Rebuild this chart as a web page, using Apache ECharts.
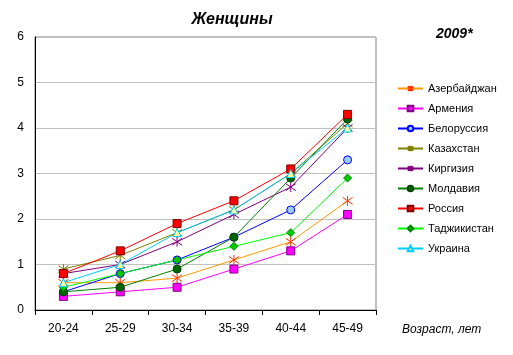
<!DOCTYPE html>
<html><head><meta charset="utf-8">
<script src="https://cdn.jsdelivr.net/npm/echarts@6/dist/echarts.min.js"></script>
<style>html,body{margin:0;padding:0;background:#fff}#c{width:513px;height:355px}</style>
</head><body><div id="c"></div>
<script>
const categories = ['20-24','25-29','30-34','35-39','40-44','45-49'];
const yTicks = [0,1,2,3,4,5,6];
const azerbaijan = [0.6,0.6,0.7,1.1,1.5,2.4];
const armenia    = [0.3,0.4,0.5,0.9,1.3,2.1];
const belarus    = [0.4,0.8,1.1,1.6,2.2,3.3];
const kazakhstan = [0.9,1.2,1.7,2.2,3.0,4.1];
const kyrgyzstan = [0.8,1.0,1.5,2.1,2.7,4.0];
const moldova    = [0.4,0.5,0.9,1.6,2.9,4.2];
const russia     = [0.8,1.3,1.9,2.4,3.1,4.3];
const tajikistan = [0.5,0.8,1.1,1.4,1.7,2.9];
const ukraine    = [0.6,1.0,1.7,2.2,3.0,4.0];

const FONT = '"Liberation Sans", Arial, sans-serif';
const STAR = 'path://M5,0L5,10M0,1.5L10,8.5M0,8.5L10,1.5';

function s(name, data, line, symbol, fill, border, size, bw) {
  return {
    name, type: 'line', data,
    symbol, symbolSize: size,
    lineStyle: { color: line, width: 1 },
    itemStyle: { color: fill, borderColor: border, borderWidth: bw, opacity: 1 },
    emphasis: { disabled: true },
    animation: false
  };
}

const chart = echarts.init(document.getElementById('c'));
chart.setOption({
  backgroundColor: '#fff',
  animation: false,
  textStyle: { fontFamily: FONT },
  title: [
    { text: 'Женщины', left: 227, top: 7, textAlign: 'center',
      textStyle: { fontFamily: FONT, fontSize: 16, fontWeight: 'bold', fontStyle: 'italic', color: '#000' } },
    { text: '2009*', left: 431, top: 22,
      textStyle: { fontFamily: FONT, fontSize: 14, fontWeight: 'bold', fontStyle: 'italic', color: '#000' } },
    { text: 'Возраст, лет', left: 397, top: 319,
      textStyle: { fontFamily: FONT, fontSize: 12, fontWeight: 'normal', fontStyle: 'italic', color: '#000' } }
  ],
  grid: { left: 35, right: 137, top: 37, bottom: 45, show: true, borderColor: '#808080', borderWidth: 1, backgroundColor: '#fff' },
  legend: {
    orient: 'vertical', left: 392, top: 78,
    itemWidth: 25, itemHeight: 7, itemGap: 9,
    textStyle: { fontFamily: FONT, fontSize: 11, color: '#000' },
    data: ['Азербайджан','Армения','Белоруссия','Казахстан','Киргизия','Молдавия','Россия','Таджикистан','Украина']
  },
  xAxis: {
    type: 'category', data: categories, boundaryGap: true,
    axisLine: { lineStyle: { color: '#000', width: 1 } },
    axisTick: { show: true, length: 5, lineStyle: { color: '#000' } },
    axisLabel: { color: '#000', fontSize: 12, margin: 13, fontFamily: FONT },
    splitLine: { show: false }
  },
  yAxis: {
    type: 'value', min: yTicks[0], max: yTicks[yTicks.length-1], interval: 1,
    axisLine: { show: true, lineStyle: { color: '#000', width: 1 } },
    axisTick: { show: false },
    axisLabel: { color: '#000', fontSize: 12, margin: 11, fontFamily: FONT },
    splitLine: { show: true, lineStyle: { color: '#c0c0c0', width: 1 } }
  },
  series: [
    s('Азербайджан', azerbaijan, '#FF9900', STAR, 'transparent', '#FF3300', 10, 1),
    s('Армения', armenia, '#FF00FF', 'rect', '#FF00FF', '#800080', 8, 1),
    s('Белоруссия', belarus, '#0000FF', 'circle', '#99CCFF', '#0000FF', 8, 1),
    s('Казахстан', kazakhstan, '#808000', STAR, 'transparent', '#808000', 10, 1),
    s('Киргизия', kyrgyzstan, '#800080', STAR, 'transparent', '#800080', 10, 1),
    s('Молдавия', moldova, '#008000', 'circle', '#006600', '#004400', 8, 1),
    s('Россия', russia, '#FF0000', 'rect', '#FF0000', '#800000', 8, 1),
    s('Таджикистан', tajikistan, '#00FF00', 'diamond', '#00CC00', '#008000', 8, 1),
    s('Украина', ukraine, '#00CCFF', 'triangle', '#FFFF99', '#00CCFF', 8, 1)
  ]
});
</script></body></html>
